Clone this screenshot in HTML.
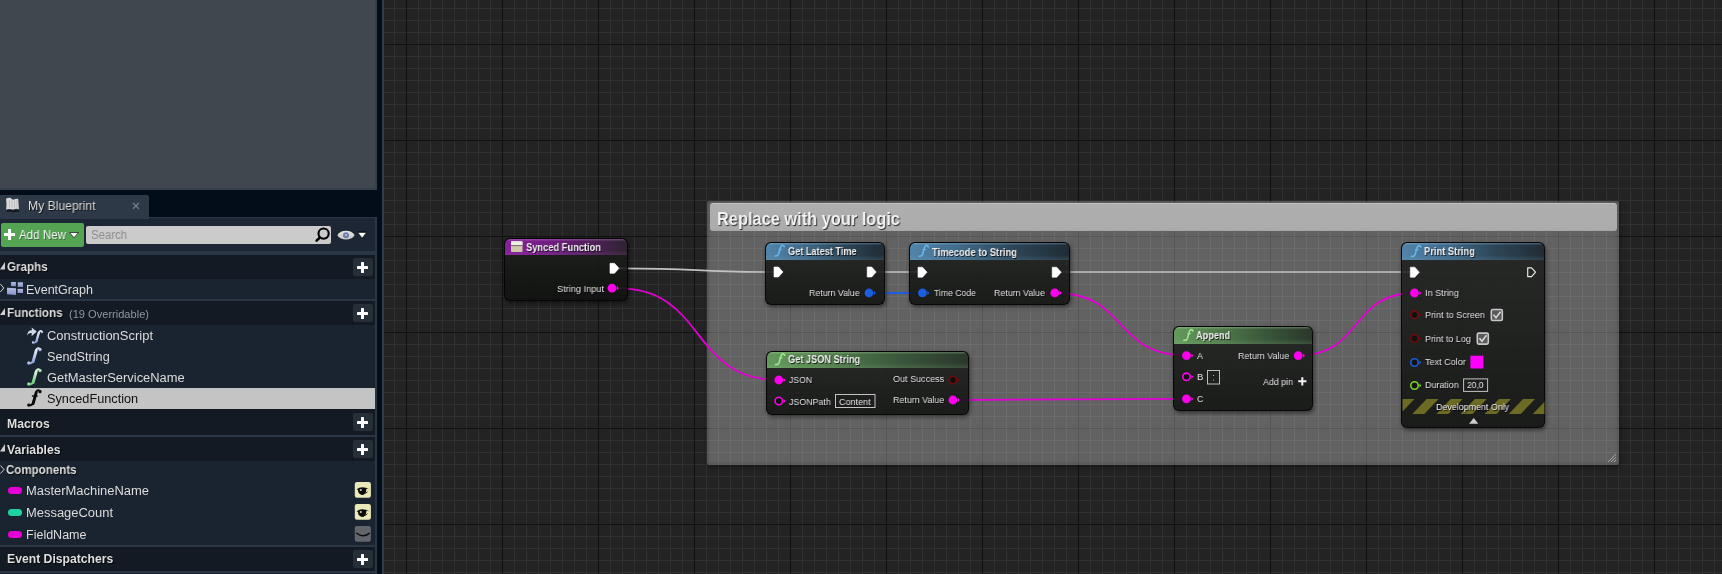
<!DOCTYPE html>
<html><head><meta charset="utf-8">
<style>
*{box-sizing:border-box;margin:0;padding:0}
html,body{width:1722px;height:574px;overflow:hidden;background:#020d19;font-family:"Liberation Sans",sans-serif;position:relative}
div{position:absolute}
.t{white-space:nowrap;transform-origin:0 0;will-change:transform}
.sh{text-shadow:1px 1px 0 rgba(0,0,0,.75)}
#graph{left:384px;top:0;width:1338px;height:574px;background-color:#232323;
background-image:
 linear-gradient(to right,#111111 1px,transparent 1px),
 linear-gradient(to bottom,#111111 1px,transparent 1px),
 linear-gradient(to right,#313131 1px,transparent 1px),
 linear-gradient(to bottom,#313131 1px,transparent 1px);
background-size:96px 96px,96px 96px,12px 12px,12px 12px;
background-position:22px 0,0 44px,10px 0,0 8px;}
.hdr{background:#131a23}
.row{background:#1a2430}
.sepl{background:#2a3644}
.plus{width:20px;height:18px;background:#262e38;border-radius:2px}
.plus:before{content:"";position:absolute;left:3.8px;top:7.2px;width:11.4px;height:3.4px;background:#fff;border-radius:.5px}
.plus:after{content:"";position:absolute;left:7.8px;top:3.2px;width:3.4px;height:11.4px;background:#fff;border-radius:.5px}
.node{border-radius:6px;background:linear-gradient(to bottom,rgba(29,31,29,.85),rgba(15,17,15,.87));border:1px solid rgba(0,0,0,.8);box-shadow:1px 2px 4px rgba(0,0,0,.5);overflow:hidden}
.nh{left:0;top:0;right:0;border-radius:5px 5px 0 0}
.blue{background:linear-gradient(to bottom,rgba(150,200,235,.35) 0,rgba(150,200,235,0) 2.5px,rgba(0,0,0,0) 70%,rgba(130,180,215,.16) 100%),linear-gradient(to right,#5284aa 0%,#416b8a 30%,#2d4657 65%,#1f2c35 100%)}
.green{background:linear-gradient(to bottom,rgba(190,235,180,.32) 0,rgba(190,235,180,0) 2.5px,rgba(0,0,0,0) 70%,rgba(170,220,160,.14) 100%),linear-gradient(to right,#64995d 0%,#527d4c 30%,#3a583b 65%,#2a382b 100%)}
.purple{background:linear-gradient(to bottom,rgba(220,150,235,.35) 0,rgba(220,150,235,0) 2.5px,rgba(0,0,0,0) 70%,rgba(200,120,215,.10) 100%),linear-gradient(to right,#84219a 0%,#731e84 35%,#4c2054 75%,#2e2430 100%)}
svg{position:absolute;left:0;top:0}
</style></head><body>
<div style="left:0;top:0;width:377px;height:190px;background:#37414c"></div>
<div style="left:0;top:0;width:375px;height:188px;background:#40474f;border-radius:0 0 3px 0"></div>
<div style="left:382px;top:0;width:2px;height:574px;background:#323d49"></div>
<div id="graph"></div>
<div style="left:0;top:195px;width:149px;height:23px;background:#2e3947;border-radius:0 2px 0 0"></div>
<div style="left:0;top:217px;width:377px;height:357px;background:#2a3644"></div>
<div style="left:0;top:218px;width:375px;height:33px;background:#1c2634"></div>
<div style="left:0;top:217px;width:149px;height:2px;background:#2e3947"></div>
<div style="left:1px;top:223px;width:83px;height:24px;background:#55a454;border-radius:2px"></div>
<div style="left:4px;top:233px;width:11px;height:3px;background:#fff"></div>
<div style="left:8px;top:229px;width:3px;height:11px;background:#fff"></div>
<svg width="1722" height="574" style="left:0;top:0"><path d="M69.5 232.5 L78.5 232.5 L74 237.8 Z" fill="#fff" stroke="#222" stroke-width="0.8"/></svg>
<div style="left:86px;top:226px;width:245px;height:18px;background:#cbcbcb;border-radius:2px"></div>
<svg width="1722" height="574"><circle cx="323.6" cy="233.6" r="5.1" fill="none" stroke="#000" stroke-width="2.1"/><path d="M319.8 237.6 L316.6 240.6" stroke="#000" stroke-width="2.6" stroke-linecap="round"/><defs><linearGradient id="eyeg" x1="0" y1="0" x2="0" y2="1"><stop offset="0" stop-color="#e6e6e6"/><stop offset="1" stop-color="#c4c4c4"/></linearGradient></defs><path d="M337.4 235.2 C340.5 229.4 351.5 229.4 354.6 235.2 C351.5 241 340.5 241 337.4 235.2 Z" fill="url(#eyeg)"/><circle cx="346" cy="235.3" r="3" fill="#6a7dab"/><circle cx="346" cy="235" r="0.9" fill="#c8cfe0"/><path d="M357.6 232.2 L366.6 232.2 L362.1 238 Z" fill="#fff" stroke="#0a0a0a" stroke-width="0.5"/><path d="M357.8 232.1 L366.4 232.1" stroke="#000" stroke-width="0.9"/></svg>
<svg width="1722" height="574"><path d="M132.9 202.9 L138.9 208.9 M138.9 202.9 L132.9 208.9" stroke="#7e848c" stroke-width="1.25"/></svg>
<div class="hdr" style="left:0;top:255px;width:375px;height:24px"></div>
<div class="plus" style="left:353px;top:258.4px"></div>
<div style="left:0;top:279px;width:375px;height:20px;background:#1a2430"></div>
<div class="hdr" style="left:0;top:301px;width:375px;height:24px"></div>
<div class="plus" style="left:353px;top:304.4px"></div>
<div style="left:0;top:325px;width:375px;height:63px;background:#1a2430"></div>
<div style="left:0;top:388px;width:375px;height:21px;background:#c4c4c4"></div>
<div class="hdr" style="left:0;top:409px;width:375px;height:26px"></div>
<div class="plus" style="left:353px;top:413.4px"></div>
<div class="hdr" style="left:0;top:437.4px;width:375px;height:23.200000000000045px"></div>
<div class="plus" style="left:353px;top:440.4px"></div>
<div style="left:0;top:460.6px;width:375px;height:84.39999999999998px;background:#1a2430"></div>
<div class="hdr" style="left:0;top:547px;width:375px;height:24px"></div>
<div class="plus" style="left:353px;top:550.4px"></div>
<div style="left:0;top:573px;width:375px;height:1px;background:#1a2430"></div>
<svg width="1722" height="574"><path d="M0 269.5 L5 262 L5 269.5 Z" fill="#cfcfcf"/><path d="M0.3 284 L3.8 288 L0.3 292" fill="none" stroke="#cfcfcf" stroke-width="1"/><path d="M0 315 L5 308 L5 315 Z" fill="#cfcfcf"/><path d="M0 451.5 L5 444 L5 451.5 Z" fill="#cfcfcf"/><path d="M0.5 465.5 L4 469.5 L0.5 473.5" fill="none" stroke="#cfcfcf" stroke-width="1"/><defs><linearGradient id="egg" x1="0" y1="0" x2="0" y2="1"><stop offset="0" stop-color="#b4bde0"/><stop offset="1" stop-color="#8592cc"/></linearGradient></defs><rect x="11.1" y="282" width="4.8" height="4.2" fill="url(#egg)"/><rect x="17.8" y="282.3" width="5.2" height="4.6" fill="url(#egg)"/><path d="M7 287.8 L16 288.2 L16 295 L7 294.2 Z" fill="url(#egg)"/><rect x="17.6" y="288.9" width="5.4" height="4.1" fill="url(#egg)"/><defs><linearGradient id="gf1" x1="0" y1="0" x2="0" y2="1"><stop offset="0" stop-color="#e4e6f2"/><stop offset="1" stop-color="#93a4dc"/></linearGradient><linearGradient id="gf2" x1="0" y1="0" x2="0" y2="1"><stop offset="0" stop-color="#d8f0dc"/><stop offset="1" stop-color="#6fd07f"/></linearGradient></defs><path d="M27.2 335.4 Q27.5 330 32 330.2 L31.6 327.4 L36.8 331.6 L31.6 336.2 L31.8 333.2 Q28.8 332.6 27.2 335.4 Z" fill="#d2d6ea"/><g transform="translate(37.5 337) scale(0.78) translate(-35 -356)"><g transform="translate(0 0) scale(1.0)"><path d="M40.8 349.4 Q39.6 347.7 38 348.4 Q36.9 349 36.4 351.2 L33.8 360.8 Q33 363.6 28.8 363.5" fill="none" stroke="url(#gf1)" stroke-width="2" stroke-linecap="round"/><path d="M36.7 350.6 L33.6 361.6" stroke="url(#gf1)" stroke-width="2.9" stroke-linecap="round"/><circle cx="40.5" cy="349.7" r="1.6" fill="url(#gf1)"/><circle cx="29.2" cy="363" r="1.4" fill="url(#gf1)"/><path d="M32.4 354 L38.2 354" stroke="url(#gf1)" stroke-width="1.4"/></g></g><g transform="translate(-0.5 0) scale(1.0)"><path d="M40.8 349.4 Q39.6 347.7 38 348.4 Q36.9 349 36.4 351.2 L33.8 360.8 Q33 363.6 28.8 363.5" fill="none" stroke="url(#gf1)" stroke-width="2" stroke-linecap="round"/><path d="M36.7 350.6 L33.6 361.6" stroke="url(#gf1)" stroke-width="2.9" stroke-linecap="round"/><circle cx="40.5" cy="349.7" r="1.6" fill="url(#gf1)"/><circle cx="29.2" cy="363" r="1.4" fill="url(#gf1)"/><path d="M32.4 354 L38.2 354" stroke="url(#gf1)" stroke-width="1.4"/></g><g transform="translate(-0.5 21) scale(1.0)"><path d="M40.8 349.4 Q39.6 347.7 38 348.4 Q36.9 349 36.4 351.2 L33.8 360.8 Q33 363.6 28.8 363.5" fill="none" stroke="url(#gf2)" stroke-width="2" stroke-linecap="round"/><path d="M36.7 350.6 L33.6 361.6" stroke="url(#gf2)" stroke-width="2.9" stroke-linecap="round"/><circle cx="40.5" cy="349.7" r="1.6" fill="url(#gf2)"/><circle cx="29.2" cy="363" r="1.4" fill="url(#gf2)"/><path d="M32.4 354 L38.2 354" stroke="url(#gf2)" stroke-width="1.4"/></g><g transform="translate(-0.5 42) scale(1.0)"><path d="M40.8 349.4 Q39.6 347.7 38 348.4 Q36.9 349 36.4 351.2 L33.8 360.8 Q33 363.6 28.8 363.5" fill="none" stroke="#0a0a0a" stroke-width="2" stroke-linecap="round"/><path d="M36.7 350.6 L33.6 361.6" stroke="#0a0a0a" stroke-width="2.9" stroke-linecap="round"/><circle cx="40.5" cy="349.7" r="1.6" fill="#0a0a0a"/><circle cx="29.2" cy="363" r="1.4" fill="#0a0a0a"/><path d="M32.4 354 L38.2 354" stroke="#0a0a0a" stroke-width="1.4"/></g><path d="M6.2 209.5 Q6.8 203 6 198.8 Q8 197.6 10.3 197.8 Q12.5 199.6 13.3 199.8 Q15.5 198.6 18.2 198.8 Q18.6 204 18.9 209.2 Q16 208.2 13 209.6 Q9.5 208.4 6.2 209.5 Z" fill="#d9d9d9"/><path d="M7 210 Q10 209 13 210.8 Q16 209.4 19 210.2 L19.5 212 Q16 211.2 13 212.4 Q10 211 6.5 212 Z" fill="#0a0e14" opacity=".8"/><path d="M9.5 200 L9.5 207.5 M12 200.5 L12 208 M14.5 200.5 L14.5 208 M16.8 200 L16.8 207.5" stroke="#aeaeae" stroke-width=".6"/><rect x="8" y="487" width="14" height="7" rx="3.5" fill="#e600d8"/><rect x="8" y="509" width="14" height="7" rx="3.5" fill="#1fd3a0"/><rect x="8" y="531" width="14" height="7" rx="3.5" fill="#e600d8"/><rect x="354.8" y="482" width="16.1" height="15.8" rx="2.2" fill="#ebe9b8"/><path d="M356.4 489.4 Q362 485.2 369.8 489.6 Q366 488 366.4 489.4 Q365.8 494.8 362 495 Q358 494 357.9 489.8 Z" fill="#0c0c0c"/><circle cx="360.8" cy="490" r="1.1" fill="#cfcfa8"/><path d="M364.5 493.3 Q366.5 493.3 367.5 491.6" fill="none" stroke="#111" stroke-width="1"/><rect x="354.8" y="504" width="16.1" height="15.8" rx="2.2" fill="#ebe9b8"/><path d="M356.4 511.4 Q362 507.2 369.8 511.6 Q366 510 366.4 511.4 Q365.8 516.8 362 517 Q358 516 357.9 511.8 Z" fill="#0c0c0c"/><circle cx="360.8" cy="512" r="1.1" fill="#cfcfa8"/><path d="M364.5 515.3 Q366.5 515.3 367.5 513.6" fill="none" stroke="#111" stroke-width="1"/><rect x="354.8" y="526" width="16.1" height="15.8" rx="2.2" fill="#62666b"/><path d="M356.3 533 Q363 538.4 369.7 533.2" fill="none" stroke="#0c0c0c" stroke-width="1.6"/></svg>
<div style="left:707px;top:200.5px;width:912px;height:264.5px;background:rgba(255,255,255,.29);border-radius:2px;box-shadow:inset 0 0 4px rgba(0,0,0,.35),1px 2px 4px rgba(0,0,0,.35)"></div>
<div style="left:710px;top:203px;width:907px;height:28px;background:linear-gradient(to bottom,#c2c2c2 0,#c2c2c2 1.2px,#aeaeae 1.2px,#acacac 90%,#a7a7a7 100%);border-radius:3px"></div>
<svg width="1722" height="574"><path d="M1608 462 L1616 454 M1611 462 L1616 457 M1614 462 L1616 460" stroke="#a8a8a8" stroke-width="0.9"/></svg>
<svg width="1722" height="574"><path d="M619 268.3 C706.36 268.3 687.64 272 775 272" fill="none" stroke="#c2c2c2" stroke-width="1.65"/><path d="M877 272 C899.96 272 895.04 272 918 272" fill="none" stroke="#c2c2c2" stroke-width="1.65"/><path d="M1061 272 C1256.44 272 1214.56 272 1410 272" fill="none" stroke="#c2c2c2" stroke-width="1.65"/><path d="M617 288.2 C707.72 288.2 688.28 380 779 380" fill="none" stroke="#e200d4" stroke-width="1.8"/><path d="M869 293 C898.96 293 892.54 293 922.5 293" fill="none" stroke="#1b5ee0" stroke-width="1.8"/><path d="M1055 293 C1128.64 293 1112.86 355.6 1186.5 355.6" fill="none" stroke="#e200d4" stroke-width="1.8"/><path d="M953 400 C1083.76 400 1055.74 398.8 1186.5 398.8" fill="none" stroke="#e200d4" stroke-width="1.8"/><path d="M1298 355.6 C1363.24 355.6 1349.26 293 1414.5 293" fill="none" stroke="#e200d4" stroke-width="1.8"/></svg>
<div class="node" style="left:504px;top:237.6px;width:124px;height:63.59999999999998px"><div class="nh purple" style="height:16.599999999999994px"></div></div>
<div class="node" style="left:765.3px;top:242.2px;width:119.30000000000007px;height:62.90000000000002px"><div class="nh blue" style="height:16.80000000000001px"></div></div>
<div class="node" style="left:909.4px;top:242.4px;width:160.39999999999998px;height:62.59999999999998px"><div class="nh blue" style="height:16.400000000000006px"></div></div>
<div class="node" style="left:765.6px;top:350.5px;width:203.19999999999993px;height:64.49999999999999px"><div class="nh green" style="height:16.399999999999977px"></div></div>
<div class="node" style="left:1173.1px;top:326.3px;width:140.20000000000005px;height:84.99999999999999px"><div class="nh green" style="height:16.599999999999966px"></div></div>
<div class="node" style="left:1401.2px;top:242.3px;width:143.70000000000005px;height:185.5px"><div class="nh blue" style="height:16.599999999999966px"></div></div>
<svg width="1722" height="574"><rect x="511" y="241.2" width="11.5" height="10.8" rx="0.8" fill="#cdc7a9"/><rect x="511" y="241.2" width="11.5" height="4.2" rx="0.8" fill="#eef0e4"/><path d="M511 245.6 L522.5 245.6" stroke="#6e5a6a" stroke-width="0.9"/><path d="M610 263.3 L614.5 263.3 L619 268.3 L614.5 273.3 L610 273.3 Z" fill="#ffffff" stroke="#ffffff" stroke-width="0.6" stroke-linejoin="round"/><circle cx="612" cy="288.2" r="4.4" fill="#ff00ee"/><path d="M616.9 286.09999999999997 L618.8 288.2 L616.9 290.3 Z" fill="#ff00ee"/><g transform="translate(0 0.0)"><path d="M784.3 246.6 Q783.6 244.9 782 245.3 Q781 245.7 780.5 247.4 L778.5 254.3 Q777.9 256.2 775 256" fill="none" stroke="#68b6ec" stroke-width="1.6" stroke-linecap="round"/><path d="M778.4 249.3 L782.2 249.3" stroke="#68b6ec" stroke-width="1"/></g><path d="M774 267 L778.5 267 L783 272 L778.5 277 L774 277 Z" fill="#ffffff" stroke="#ffffff" stroke-width="0.6" stroke-linejoin="round"/><path d="M867.2 267 L871.7 267 L876.2 272 L871.7 277 L867.2 277 Z" fill="#ffffff" stroke="#ffffff" stroke-width="0.6" stroke-linejoin="round"/><circle cx="869" cy="293" r="4.4" fill="#1b5ee0"/><path d="M873.9 290.9 L875.8 293 L873.9 295.1 Z" fill="#1b5ee0"/><g transform="translate(144 0.19999999999998863)"><path d="M784.3 246.6 Q783.6 244.9 782 245.3 Q781 245.7 780.5 247.4 L778.5 254.3 Q777.9 256.2 775 256" fill="none" stroke="#68b6ec" stroke-width="1.6" stroke-linecap="round"/><path d="M778.4 249.3 L782.2 249.3" stroke="#68b6ec" stroke-width="1"/></g><path d="M918 267.2 L922.5 267.2 L927 272.2 L922.5 277.2 L918 277.2 Z" fill="#ffffff" stroke="#ffffff" stroke-width="0.6" stroke-linejoin="round"/><path d="M1052.2 267.2 L1056.7 267.2 L1061.2 272.2 L1056.7 277.2 L1052.2 277.2 Z" fill="#ffffff" stroke="#ffffff" stroke-width="0.6" stroke-linejoin="round"/><circle cx="922.5" cy="292.9" r="4.4" fill="#1b5ee0"/><path d="M927.4 290.79999999999995 L929.3 292.9 L927.4 295.0 Z" fill="#1b5ee0"/><circle cx="1054.8" cy="292.9" r="4.4" fill="#ff00ee"/><path d="M1059.7 290.79999999999995 L1061.6 292.9 L1059.7 295.0 Z" fill="#ff00ee"/><g transform="translate(0.5 108.60000000000002)"><path d="M784.3 246.6 Q783.6 244.9 782 245.3 Q781 245.7 780.5 247.4 L778.5 254.3 Q777.9 256.2 775 256" fill="none" stroke="#9ce68c" stroke-width="1.6" stroke-linecap="round"/><path d="M778.4 249.3 L782.2 249.3" stroke="#9ce68c" stroke-width="1"/></g><circle cx="778.8" cy="380" r="4.4" fill="#ff00ee"/><path d="M783.6999999999999 377.9 L785.5999999999999 380 L783.6999999999999 382.1 Z" fill="#ff00ee"/><circle cx="778.8" cy="401" r="3.7" fill="#111" stroke="#ff00ee" stroke-width="1.6"/><path d="M783.6999999999999 398.9 L785.5999999999999 401 L783.6999999999999 403.1 Z" fill="#ff00ee"/><rect x="835.5" y="394.5" width="39.5" height="13" fill="none" stroke="#c4c4c4" stroke-width="1"/><circle cx="952.9" cy="380" r="3.7" fill="#111" stroke="#730b0b" stroke-width="1.6"/><path d="M957.8 377.9 L959.6999999999999 380 L957.8 382.1 Z" fill="#730b0b"/><circle cx="952.9" cy="400" r="4.4" fill="#ff00ee"/><path d="M957.8 397.9 L959.6999999999999 400 L957.8 402.1 Z" fill="#ff00ee"/><g transform="translate(408.79999999999995 84.40000000000003)"><path d="M784.3 246.6 Q783.6 244.9 782 245.3 Q781 245.7 780.5 247.4 L778.5 254.3 Q777.9 256.2 775 256" fill="none" stroke="#9ce68c" stroke-width="1.6" stroke-linecap="round"/><path d="M778.4 249.3 L782.2 249.3" stroke="#9ce68c" stroke-width="1"/></g><circle cx="1186.5" cy="355.6" r="4.4" fill="#ff00ee"/><path d="M1191.4 353.5 L1193.3 355.6 L1191.4 357.70000000000005 Z" fill="#ff00ee"/><circle cx="1186.5" cy="376.8" r="3.7" fill="#111" stroke="#ff00ee" stroke-width="1.6"/><path d="M1191.4 374.7 L1193.3 376.8 L1191.4 378.90000000000003 Z" fill="#ff00ee"/><rect x="1207.5" y="370.5" width="12" height="13.5" fill="none" stroke="#bdbdbd" stroke-width="1"/><circle cx="1213.5" cy="375.5" r="0.55" fill="#ccc"/><circle cx="1213.5" cy="380" r="0.55" fill="#ccc"/><circle cx="1186.5" cy="398.8" r="4.4" fill="#ff00ee"/><path d="M1191.4 396.7 L1193.3 398.8 L1191.4 400.90000000000003 Z" fill="#ff00ee"/><circle cx="1298.2" cy="355.6" r="4.4" fill="#ff00ee"/><path d="M1303.1000000000001 353.5 L1305.0 355.6 L1303.1000000000001 357.70000000000005 Z" fill="#ff00ee"/><path d="M1298.2 381.3 L1306.4 381.3 M1302.3 377.2 L1302.3 385.4" stroke="#f4f4f4" stroke-width="2"/><g transform="translate(636.5 0.4000000000000341)"><path d="M784.3 246.6 Q783.6 244.9 782 245.3 Q781 245.7 780.5 247.4 L778.5 254.3 Q777.9 256.2 775 256" fill="none" stroke="#68b6ec" stroke-width="1.6" stroke-linecap="round"/><path d="M778.4 249.3 L782.2 249.3" stroke="#68b6ec" stroke-width="1"/></g><path d="M1410.3 267.2 L1414.8 267.2 L1419.3 272.2 L1414.8 277.2 L1410.3 277.2 Z" fill="#ffffff" stroke="#ffffff" stroke-width="0.6" stroke-linejoin="round"/><path d="M1527.6999999999998 267.8 L1531.6 267.8 L1535.5 272.2 L1531.6 276.59999999999997 L1527.6999999999998 276.59999999999997 Z" fill="none" stroke="#e8e8e8" stroke-width="1.2" stroke-linejoin="round"/><circle cx="1414.5" cy="293" r="4.4" fill="#ff00ee"/><path d="M1419.4 290.9 L1421.3 293 L1419.4 295.1 Z" fill="#ff00ee"/><circle cx="1414.5" cy="314.8" r="3.7" fill="#111" stroke="#730b0b" stroke-width="1.6"/><path d="M1419.4 312.7 L1421.3 314.8 L1419.4 316.90000000000003 Z" fill="#730b0b"/><circle cx="1414.5" cy="338.5" r="3.7" fill="#111" stroke="#730b0b" stroke-width="1.6"/><path d="M1419.4 336.4 L1421.3 338.5 L1419.4 340.6 Z" fill="#730b0b"/><circle cx="1414.5" cy="362.5" r="3.7" fill="#111" stroke="#1b5ee0" stroke-width="1.6"/><path d="M1419.4 360.4 L1421.3 362.5 L1419.4 364.6 Z" fill="#1b5ee0"/><circle cx="1414.5" cy="385.5" r="3.7" fill="#111" stroke="#7ad82a" stroke-width="1.6"/><path d="M1419.4 383.4 L1421.3 385.5 L1419.4 387.6 Z" fill="#7ad82a"/><rect x="1491.3" y="309.5" width="11" height="11" rx="1.5" fill="#5a5a5a" stroke="#c8c8c8" stroke-width="1.6"/><path d="M1493.5 314.7 L1496.0 317.7 L1500.5 311.7" fill="none" stroke="#d8d8d8" stroke-width="1.6"/><rect x="1477.3" y="333.1" width="11" height="11" rx="1.5" fill="#5a5a5a" stroke="#c8c8c8" stroke-width="1.6"/><path d="M1479.5 338.3 L1482.0 341.3 L1486.5 335.3" fill="none" stroke="#d8d8d8" stroke-width="1.6"/><rect x="1470.4" y="355.7" width="12.8" height="12.8" fill="#ff00ff"/><rect x="1463.6" y="378.9" width="24" height="12.5" fill="none" stroke="#c4c4c4" stroke-width="1"/><clipPath id="cps"><rect x="1402.6" y="398.9" width="141.8" height="15.2"/></clipPath><g clip-path="url(#cps)"><path d="M1364.0 414.1 L1376.0 414.1 L1390.5 398.9 L1378.5 398.9 Z" fill="#6c6b24"/><path d="M1388.1000000000001 414.1 L1400.1000000000001 414.1 L1414.6000000000001 398.9 L1402.6000000000001 398.9 Z" fill="#6c6b24"/><path d="M1412.2 414.1 L1424.2 414.1 L1438.7 398.9 L1426.7 398.9 Z" fill="#6c6b24"/><path d="M1436.3 414.1 L1448.3 414.1 L1462.8 398.9 L1450.8 398.9 Z" fill="#6c6b24"/><path d="M1460.4 414.1 L1472.4 414.1 L1486.9 398.9 L1474.9 398.9 Z" fill="#6c6b24"/><path d="M1484.5 414.1 L1496.5 414.1 L1511.0 398.9 L1499.0 398.9 Z" fill="#6c6b24"/><path d="M1508.6000000000001 414.1 L1520.6000000000001 414.1 L1535.1000000000001 398.9 L1523.1000000000001 398.9 Z" fill="#6c6b24"/><path d="M1532.7 414.1 L1544.7 414.1 L1559.2 398.9 L1547.2 398.9 Z" fill="#6c6b24"/><path d="M1556.8000000000002 414.1 L1568.8000000000002 414.1 L1583.3000000000002 398.9 L1571.3000000000002 398.9 Z" fill="#6c6b24"/><path d="M1580.9 414.1 L1592.9 414.1 L1607.4 398.9 L1595.4 398.9 Z" fill="#6c6b24"/><path d="M1605.0 414.1 L1617.0 414.1 L1631.5 398.9 L1619.5 398.9 Z" fill="#6c6b24"/></g><path d="M1469.1 423.8 L1478.3 423.8 L1473.7 417.9 Z" fill="#cfcfcf"/></svg>
<div class="t" style="left:27.70px;top:200.39px;font-size:12.3px;line-height:12.3px;color:#dcdcdc;transform:scaleX(0.9891);text-shadow:1px 1px 0 rgba(0,0,0,.7);">My Blueprint</div>
<div class="t" style="left:18.60px;top:229.22px;font-size:12.5px;line-height:12.5px;color:#f4f4f4;transform:scaleX(0.9264);text-shadow:1px 1px 0 rgba(0,0,0,.35);">Add New</div>
<div class="t" style="left:91.30px;top:229.49px;font-size:12.3px;line-height:12.3px;color:#8d8d8d;transform:scaleX(0.9264);">Search</div>
<div class="t" style="left:6.60px;top:261.27px;font-size:12.2px;line-height:12.2px;font-weight:bold;color:#dedede;transform:scaleX(0.9514);text-shadow:1px 1px 0 rgba(0,0,0,.8);">Graphs</div>
<div class="t" style="left:26.20px;top:283.82px;font-size:12.5px;line-height:12.5px;color:#dcdcdc;transform:scaleX(1.0042);">EventGraph</div>
<div class="t" style="left:6.60px;top:307.37px;font-size:12.2px;line-height:12.2px;font-weight:bold;color:#dedede;transform:scaleX(0.9548);text-shadow:1px 1px 0 rgba(0,0,0,.8);">Functions</div>
<div class="t" style="left:68.50px;top:309.29px;font-size:11px;line-height:11px;color:#8f969e;transform:scaleX(1.0065);">(19 Overridable)</div>
<div class="t" style="left:46.60px;top:330.22px;font-size:12.5px;line-height:12.5px;color:#dcdcdc;transform:scaleX(1.0379);">ConstructionScript</div>
<div class="t" style="left:46.60px;top:351.12px;font-size:12.5px;line-height:12.5px;color:#dcdcdc;transform:scaleX(1.0136);">SendString</div>
<div class="t" style="left:46.60px;top:372.12px;font-size:12.5px;line-height:12.5px;color:#dcdcdc;transform:scaleX(1.0324);">GetMasterServiceName</div>
<div class="t" style="left:46.60px;top:393.12px;font-size:12.5px;line-height:12.5px;color:#111111;transform:scaleX(1.0174);">SyncedFunction</div>
<div class="t" style="left:6.60px;top:417.57px;font-size:12.2px;line-height:12.2px;font-weight:bold;color:#dedede;transform:scaleX(0.9956);text-shadow:1px 1px 0 rgba(0,0,0,.8);">Macros</div>
<div class="t" style="left:6.60px;top:443.67px;font-size:12.2px;line-height:12.2px;font-weight:bold;color:#dedede;transform:scaleX(0.9938);text-shadow:1px 1px 0 rgba(0,0,0,.8);">Variables</div>
<div class="t" style="left:6.40px;top:464.17px;font-size:12.2px;line-height:12.2px;font-weight:bold;color:#dedede;transform:scaleX(0.9465);text-shadow:1px 1px 0 rgba(0,0,0,.8);">Components</div>
<div class="t" style="left:26.30px;top:485.12px;font-size:12.5px;line-height:12.5px;color:#dcdcdc;transform:scaleX(1.0354);">MasterMachineName</div>
<div class="t" style="left:26.30px;top:507.12px;font-size:12.5px;line-height:12.5px;color:#dcdcdc;transform:scaleX(1.0348);">MessageCount</div>
<div class="t" style="left:26.30px;top:528.82px;font-size:12.5px;line-height:12.5px;color:#dcdcdc;transform:scaleX(1.0010);">FieldName</div>
<div class="t" style="left:6.60px;top:553.37px;font-size:12.2px;line-height:12.2px;font-weight:bold;color:#dedede;transform:scaleX(0.9968);text-shadow:1px 1px 0 rgba(0,0,0,.8);">Event Dispatchers</div>
<div class="t" style="left:717.40px;top:209.84px;font-size:18.5px;line-height:18.5px;font-weight:bold;color:#f2f2f2;transform:scaleX(0.8856);text-shadow:1px 1px 1px rgba(0,0,0,.8);">Replace with your logic</div>
<div class="t" style="left:526.40px;top:242.07px;font-size:11.5px;line-height:11.5px;font-weight:bold;color:#ececec;transform:scaleX(0.8094);text-shadow:1px 1px 0 rgba(0,0,0,.7);">Synced Function</div>
<div class="t" style="left:557.00px;top:283.87px;font-size:9.6px;line-height:9.6px;color:#e0e0e0;transform:scaleX(0.9577);text-shadow:1px 1px 0 rgba(0,0,0,.6);">String Input</div>
<div class="t" style="left:788.20px;top:246.36px;font-size:10.8px;line-height:10.8px;font-weight:bold;color:#ececec;transform:scaleX(0.8489);text-shadow:1px 1px 0 rgba(0,0,0,.7);">Get Latest Time</div>
<div class="t" style="left:809.30px;top:287.97px;font-size:9.6px;line-height:9.6px;color:#e0e0e0;transform:scaleX(0.9169);text-shadow:1px 1px 0 rgba(0,0,0,.6);">Return Value</div>
<div class="t" style="left:932.40px;top:246.56px;font-size:10.8px;line-height:10.8px;font-weight:bold;color:#ececec;transform:scaleX(0.8699);text-shadow:1px 1px 0 rgba(0,0,0,.7);">Timecode to String</div>
<div class="t" style="left:933.70px;top:287.67px;font-size:9.6px;line-height:9.6px;color:#e0e0e0;transform:scaleX(0.8974);text-shadow:1px 1px 0 rgba(0,0,0,.6);">Time Code</div>
<div class="t" style="left:994.30px;top:287.67px;font-size:9.6px;line-height:9.6px;color:#e0e0e0;transform:scaleX(0.9205);text-shadow:1px 1px 0 rgba(0,0,0,.6);">Return Value</div>
<div class="t" style="left:788.30px;top:354.46px;font-size:10.8px;line-height:10.8px;font-weight:bold;color:#ececec;transform:scaleX(0.8523);text-shadow:1px 1px 0 rgba(0,0,0,.7);">Get JSON String</div>
<div class="t" style="left:789.30px;top:374.87px;font-size:9.6px;line-height:9.6px;color:#e0e0e0;transform:scaleX(0.8987);text-shadow:1px 1px 0 rgba(0,0,0,.6);">JSON</div>
<div class="t" style="left:789.30px;top:396.67px;font-size:9.6px;line-height:9.6px;color:#e0e0e0;transform:scaleX(0.9222);text-shadow:1px 1px 0 rgba(0,0,0,.6);">JSONPath</div>
<div class="t" style="left:839.20px;top:396.67px;font-size:9.6px;line-height:9.6px;color:#e0e0e0;transform:scaleX(0.9432);">Content</div>
<div class="t" style="left:893.20px;top:374.37px;font-size:9.6px;line-height:9.6px;color:#e0e0e0;transform:scaleX(0.9413);text-shadow:1px 1px 0 rgba(0,0,0,.6);">Out Success</div>
<div class="t" style="left:893.20px;top:394.67px;font-size:9.6px;line-height:9.6px;color:#e0e0e0;transform:scaleX(0.9259);text-shadow:1px 1px 0 rgba(0,0,0,.6);">Return Value</div>
<div class="t" style="left:1196.20px;top:330.26px;font-size:10.8px;line-height:10.8px;font-weight:bold;color:#ececec;transform:scaleX(0.8510);text-shadow:1px 1px 0 rgba(0,0,0,.7);">Append</div>
<div class="t" style="left:1197.10px;top:351.07px;font-size:9.6px;line-height:9.6px;color:#e0e0e0;transform:scaleX(0.9210);">A</div>
<div class="t" style="left:1197.10px;top:372.27px;font-size:9.6px;line-height:9.6px;color:#e0e0e0;transform:scaleX(0.9990);">B</div>
<div class="t" style="left:1197.10px;top:393.87px;font-size:9.6px;line-height:9.6px;color:#e0e0e0;transform:scaleX(0.9225);">C</div>
<div class="t" style="left:1238.30px;top:350.87px;font-size:9.6px;line-height:9.6px;color:#e0e0e0;transform:scaleX(0.9277);text-shadow:1px 1px 0 rgba(0,0,0,.6);">Return Value</div>
<div class="t" style="left:1263.00px;top:376.67px;font-size:9.6px;line-height:9.6px;color:#e0e0e0;transform:scaleX(0.9217);">Add pin</div>
<div class="t" style="left:1424.30px;top:246.46px;font-size:10.8px;line-height:10.8px;font-weight:bold;color:#ececec;transform:scaleX(0.8657);text-shadow:1px 1px 0 rgba(0,0,0,.7);">Print String</div>
<div class="t" style="left:1425.20px;top:288.17px;font-size:9.6px;line-height:9.6px;color:#e0e0e0;transform:scaleX(0.9459);text-shadow:1px 1px 0 rgba(0,0,0,.6);">In String</div>
<div class="t" style="left:1425.20px;top:309.97px;font-size:9.6px;line-height:9.6px;color:#e0e0e0;transform:scaleX(0.9438);text-shadow:1px 1px 0 rgba(0,0,0,.6);">Print to Screen</div>
<div class="t" style="left:1425.20px;top:334.07px;font-size:9.6px;line-height:9.6px;color:#e0e0e0;transform:scaleX(0.9332);text-shadow:1px 1px 0 rgba(0,0,0,.6);">Print to Log</div>
<div class="t" style="left:1425.20px;top:357.37px;font-size:9.6px;line-height:9.6px;color:#e0e0e0;transform:scaleX(0.9424);text-shadow:1px 1px 0 rgba(0,0,0,.6);">Text Color</div>
<div class="t" style="left:1425.20px;top:379.87px;font-size:9.6px;line-height:9.6px;color:#e0e0e0;transform:scaleX(0.9293);text-shadow:1px 1px 0 rgba(0,0,0,.6);">Duration</div>
<div class="t" style="left:1467.30px;top:380.07px;font-size:9.6px;line-height:9.6px;color:#e0e0e0;transform:scaleX(0.8829);">20,0</div>
<div class="t" style="left:1436.20px;top:401.67px;font-size:9.6px;line-height:9.6px;color:#f4f4f4;transform:scaleX(0.9275);text-shadow:1px 1px 0 rgba(0,0,0,.9),0 0 2px rgba(0,0,0,.6);">Development Only</div>

</body></html>
